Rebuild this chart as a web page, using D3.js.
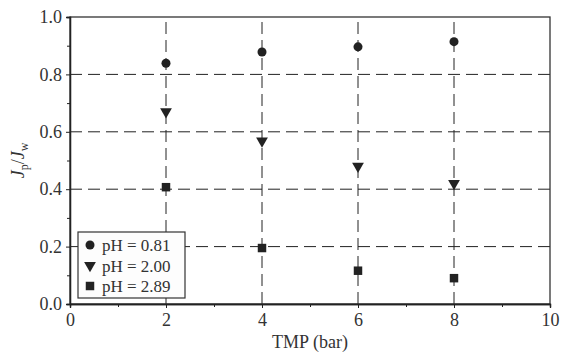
<!DOCTYPE html>
<html>
<head>
<meta charset="utf-8">
<script src="https://cdn.jsdelivr.net/npm/d3@7"></script>
<style>
  body { margin: 0; background: #fff; }
  svg { display: block; font-family: "Liberation Serif", "DejaVu Serif", serif; }
</style>
</head>
<body>
<script>
// TMP values (bar)
var tmp = [2, 4, 6, 8];
// Jp/Jw for each pH
var ph081 = [0.839, 0.878, 0.896, 0.914];
var ph200 = [0.67, 0.568, 0.48, 0.42];
var ph289 = [0.407, 0.195, 0.116, 0.09];
var seriesNames = ["pH = 0.81", "pH = 2.00", "pH = 2.89"];
var xTicks = [0, 2, 4, 6, 8, 10];
var yTicks = [0.0, 0.2, 0.4, 0.6, 0.8, 1.0];

var W = 561, H = 352;
var m = { left: 70, right: 11, top: 17, bottom: 48 };

var svg = d3.select("body").append("svg").attr("width", W).attr("height", H);

var x = d3.scaleLinear().domain([0, 10]).range([m.left, W - m.right]);
var y = d3.scaleLinear().domain([0, 1]).range([H - m.bottom, m.top]);

var ink = "#222";
var serif = "Liberation Serif, serif";

// dashed grid
svg.append("g").selectAll("line").data([0.2, 0.4, 0.6, 0.8]).join("line")
  .attr("x1", x(0)).attr("x2", x(10))
  .attr("y1", function(d) { return y(d); }).attr("y2", function(d) { return y(d); })
  .attr("stroke", "#222").attr("stroke-width", 1).attr("stroke-dasharray", "12,6");
svg.append("g").selectAll("line").data([2, 4, 6, 8]).join("line")
  .attr("y1", y(0)).attr("y2", y(1))
  .attr("x1", function(d) { return x(d); }).attr("x2", function(d) { return x(d); })
  .attr("stroke", "#222").attr("stroke-width", 1).attr("stroke-dasharray", "12,6");

// frame
svg.append("rect")
  .attr("x", x(0)).attr("y", y(1))
  .attr("width", x(10) - x(0)).attr("height", y(0) - y(1))
  .attr("fill", "none").attr("stroke", "#333").attr("stroke-width", 1.3);

// axes
svg.append("g").attr("transform", "translate(0," + y(0) + ")")
  .call(d3.axisBottom(x).tickValues(xTicks).tickFormat(d3.format("d")).tickSize(4).tickPadding(5));
svg.append("g").attr("transform", "translate(" + x(0) + ",0)")
  .call(d3.axisLeft(y).tickValues(yTicks).tickFormat(d3.format(".1f")).tickSize(4).tickPadding(4));
// minor ticks
svg.append("g").attr("transform", "translate(0," + y(0) + ")")
  .call(d3.axisBottom(x).tickValues([1, 3, 5, 7, 9]).tickFormat("").tickSize(3));
svg.append("g").attr("transform", "translate(" + x(0) + ",0)")
  .call(d3.axisLeft(y).tickValues([0.1, 0.3, 0.5, 0.7, 0.9]).tickFormat("").tickSize(3));

svg.selectAll("g").attr("font-family", serif);
svg.selectAll(".domain").attr("stroke", ink).attr("stroke-width", 1.3);
svg.selectAll(".tick line").attr("stroke", ink);
svg.selectAll(".tick text")
  .attr("font-size", 18).attr("fill", "#333");

// axis titles
svg.append("text")
  .attr("x", (x(0) + x(10)) / 2).attr("y", 348)
  .attr("text-anchor", "middle").attr("font-size", 18).attr("fill", "#333")
  .text("TMP (bar)");

var yl = svg.append("text")
  .attr("transform", "translate(24," + ((y(0) + y(1)) / 2) + ") rotate(-90)")
  .attr("text-anchor", "middle").attr("font-size", 18).attr("fill", "#333");
yl.append("tspan").attr("font-style", "italic").text("J");
yl.append("tspan").attr("font-size", 12).attr("dy", 4).text("p");
yl.append("tspan").attr("dy", -4).text("/");
yl.append("tspan").attr("font-style", "italic").text("J");
yl.append("tspan").attr("font-size", 12).attr("dy", 4).text("w");

// markers
var markColor = "#222";
var circle = d3.symbol().type(d3.symbolCircle).size(64);
var tri = d3.symbol().type(d3.symbolTriangle).size(60);
var square = d3.symbol().type(d3.symbolSquare).size(72);

function drawSeries(vals, sym, rot) {
  svg.append("g").selectAll("path").data(vals).join("path")
    .attr("d", sym)
    .attr("transform", function(d, i) {
      return "translate(" + x(tmp[i]) + "," + y(d) + ")" + (rot ? " rotate(180)" : "");
    })
    .attr("fill", markColor);
}
drawSeries(ph081, circle, false);
drawSeries(ph200, tri, true);
drawSeries(ph289, square, false);

// legend
var lg = svg.append("g").attr("transform", "translate(78,232)");
lg.append("rect").attr("width", 107).attr("height", 66)
  .attr("fill", "#fdfdfd").attr("stroke", "#333").attr("stroke-width", 1.2);
var syms = [circle, tri, square];
seriesNames.forEach(function(name, i) {
  var cy = 13 + i * 20.5;
  lg.append("path").attr("d", syms[i])
    .attr("transform", "translate(12," + cy + ")" + (i === 1 ? " rotate(180)" : ""))
    .attr("fill", markColor);
  lg.append("text").attr("x", 24).attr("y", cy + 6)
    .attr("font-size", 17).attr("fill", "#333").text(name);
});
</script>
</body>
</html>
